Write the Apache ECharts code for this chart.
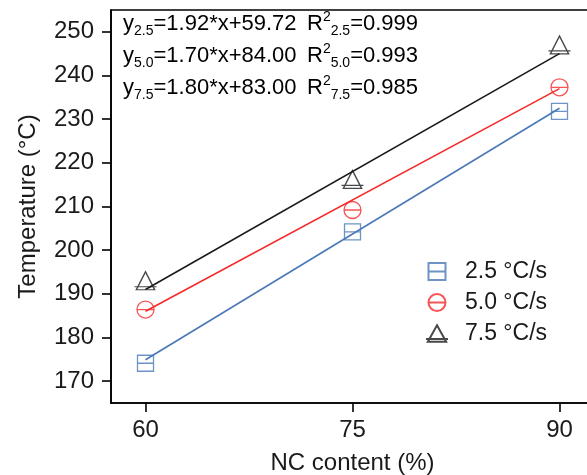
<!DOCTYPE html>
<html>
<head>
<meta charset="utf-8">
<script src="https://cdn.jsdelivr.net/npm/echarts@6/dist/echarts.min.js"></script>
<style>
  html, body { margin: 0; padding: 0; background: #fff; }
  #chart { width: 587px; height: 475px; }
</style>
</head>
<body>
<div id="chart"></div>
<script>
// NC content (%)
const ncContent = [60, 75, 90];
const xTicks = [60, 75, 90];
const yTicks = [170, 180, 190, 200, 210, 220, 230, 240, 250];

// measured temperatures (°C)
const temp25 = [174.1, 204.2, 231.8];
const temp50 = [186.4, 209.2, 237.3];
const temp75 = [193.0, 216.2, 247.0];

// fitted line end points at x = 60 and x = 90
const fitX = [60, 90];
const fit25 = [174.9, 232.5];
const fit50 = [186.0, 237.0];
const fit75 = [191.0, 245.0];

const seriesNames = ['2.5 °C/s', '5.0 °C/s', '7.5 °C/s'];
const equations = [
  ['2.5', '1.92*x+59.72', '0.999'],
  ['5.0', '1.70*x+84.00', '0.993'],
  ['7.5', '1.80*x+83.00', '0.985']
];

const FONT = 'Liberation Sans, Arial, sans-serif';
const TEXT = '#1a1a1a';
const BLUE = '#4a78b8';
const RED = '#f52a2a';
const BLACK = '#1a1a1a';

const symSquare = 'path://M0,0 H10 V10 H0 Z M0,5 H10';
const symCircle = 'path://M0,5 A5,5 0 1,1 10,5 A5,5 0 1,1 0,5 Z M0,5 H10';
const symTriangle = 'path://M6,0 L11,9 L1,9 Z M0,7.5 H12';

function zip(xs, ys) {
  return xs.map((x, i) => [x, ys[i]]);
}

const chart = echarts.init(document.getElementById('chart'));

function marker(name, data, sym, size, color) {
  return {
    name: name,
    type: 'scatter',
    data: zip(ncContent, data),
    symbol: sym,
    symbolSize: size,
    itemStyle: { color: 'rgba(0,0,0,0)', borderColor: color, borderWidth: 1.3 },
    z: 3
  };
}

function fitLine(data, color) {
  return {
    type: 'line',
    data: zip(fitX, data),
    showSymbol: false,
    lineStyle: { color: color, width: 1.6 },
    silent: true,
    z: 2
  };
}

const rich = {
  a: { fontSize: 22, fontFamily: FONT, color: TEXT, verticalAlign: 'middle', lineHeight: 28 },
  s: { fontSize: 14, fontFamily: FONT, color: TEXT, verticalAlign: 'bottom', lineHeight: 14 },
  p: { fontSize: 14, fontFamily: FONT, color: TEXT, verticalAlign: 'top', lineHeight: 14 }
};

const graphics = [];
equations.forEach((eq, i) => {
  const cy = 24 + i * 32;
  graphics.push({
    type: 'text', x: 123, y: cy,
    style: { text: '{a|y}{s|' + eq[0] + '}{a|=' + eq[1] + '}', rich: rich, verticalAlign: 'middle' }
  });
  graphics.push({
    type: 'text', x: 307, y: cy,
    style: { text: '{a|R}{p|2}{s|' + eq[0] + '}{a|=' + eq[2] + '}', rich: rich, verticalAlign: 'middle' }
  });
});

const option = {
  animation: false,
  backgroundColor: '#fff',
  grid: {
    left: 111, right: -7, top: 10, bottom: 72,
    outerBoundsMode: 'none',
    show: true, borderColor: '#000', borderWidth: 1.6
  },
  legend: {
    data: seriesNames,
    orient: 'vertical',
    left: 420, top: 255,
    itemGap: 8,
    itemWidth: 22, itemHeight: 17,
    textStyle: { fontSize: 23, fontFamily: FONT, color: TEXT, padding: [0, 0, 0, 12] }
  },
  xAxis: {
    type: 'value',
    min: 57.5, max: 92.5,
    name: 'NC content (%)',
    nameLocation: 'middle',
    nameGap: 48,
    nameTextStyle: { fontSize: 24, fontFamily: FONT, color: TEXT },
    axisLine: { lineStyle: { color: '#000', width: 1.6 } },
    axisTick: { customValues: xTicks, length: 9, lineStyle: { color: '#000', width: 1.6 } },
    axisLabel: { customValues: xTicks, fontSize: 24, fontFamily: FONT, color: TEXT, margin: 15 },
    splitLine: { show: false }
  },
  yAxis: {
    type: 'value',
    min: 165, max: 255,
    name: 'Temperature (°C)',
    nameLocation: 'middle',
    nameGap: 71,
    nameTextStyle: { fontSize: 24, fontFamily: FONT, color: TEXT },
    axisLine: { lineStyle: { color: '#000', width: 1.6 } },
    axisTick: { customValues: yTicks, length: 9, lineStyle: { color: '#000', width: 1.6 } },
    axisLabel: { customValues: yTicks, fontSize: 24, fontFamily: FONT, color: TEXT, margin: 17 },
    splitLine: { show: false }
  },
  graphic: graphics,
  series: [
    fitLine(fit25, BLUE),
    fitLine(fit50, RED),
    fitLine(fit75, BLACK),
    marker(seriesNames[0], temp25, symSquare, [16, 16], BLUE),
    marker(seriesNames[1], temp50, symCircle, [17, 17], RED),
    marker(seriesNames[2], temp75, symTriangle, [22, 18], BLACK)
  ]
};

chart.setOption(option);
</script>
</body>
</html>
